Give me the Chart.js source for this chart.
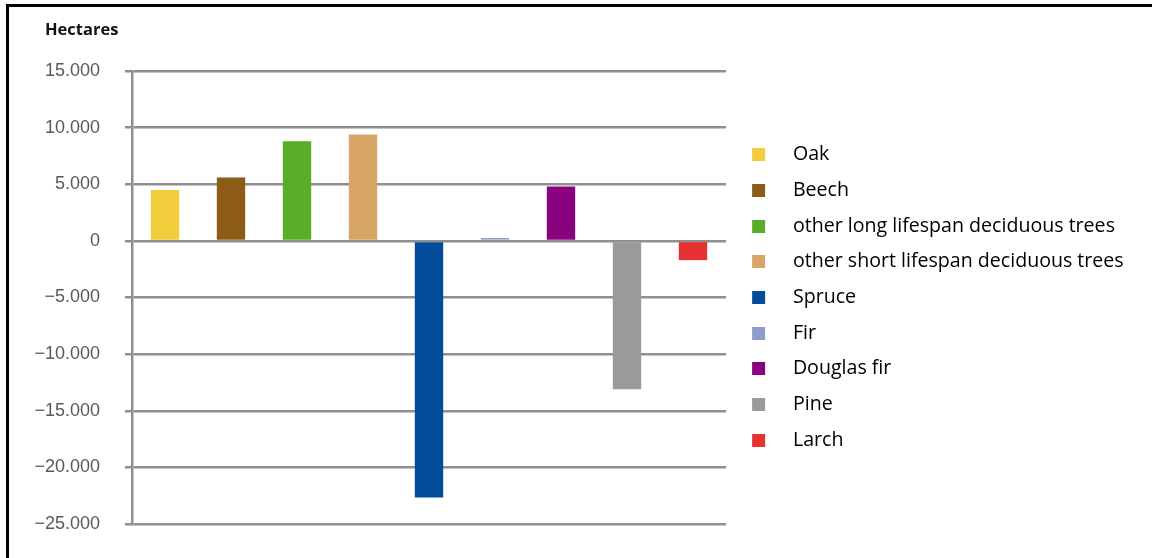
<!DOCTYPE html>
<html>
<head>
<meta charset="utf-8">
<script src="https://cdn.jsdelivr.net/npm/chart.js@4"></script>
<style>
  html, body { margin: 0; padding: 0; background: #fff; overflow: hidden; }
  #frame {
    position: absolute; left: 6px; top: 4px; right: -10px; bottom: -10px;
    border-left: 3px solid #000; border-top: 3px solid #000;
  }
  #wrap { position: absolute; left: 0; top: 0; width: 1152px; height: 558px; }
</style>
</head>
<body>
<div id="frame"></div>
<div id="wrap"><canvas id="chart"></canvas></div>
<script>
// tree species and change in area (hectares)
const species = [
  "Oak",
  "Beech",
  "other long lifespan deciduous trees",
  "other short lifespan deciduous trees",
  "Spruce",
  "Fir",
  "Douglas fir",
  "Pine",
  "Larch",
];
const hectares = [4500, 5600, 8800, 9400, -22650, 250, 4800, -13100, -1700];
const barColors = [
  "#f1cd3b", "#8c5b15", "#5aad29", "#d7a566", "#034b9b",
  "#8c9ccd", "#89037f", "#9a9a9c", "#e3322f",
];
const yMin = -25000;
const yMax = 15000;
const yStep = 5000;

function fmt(v) {
  const s = Math.abs(v).toString().replace(/\B(?=(\d{3})+(?!\d))/g, ".");
  return v < 0 ? "\u2212" + s : s;
}

// legend swatch: 13px square with some room on its left
function swatch(color) {
  const c = document.createElement("canvas");
  c.width = 41;
  c.height = 13;
  const g = c.getContext("2d");
  g.fillStyle = color;
  g.fillRect(10, 0, 13, 13);
  return c;
}

// unit label in the top left corner
const unitLabel = {
  id: "unitLabel",
  afterDraw(chart) {
    const c = chart.ctx;
    c.save();
    c.font = "bold 16.5px 'Open Sans'";
    c.fillStyle = "#111";
    c.textBaseline = "middle";
    c.fillText("Hectares", 45, 30);
    c.restore();
  },
};

// legend box keeps the whole space right of the plot
const legendWidth = {
  id: "legendWidth",
  beforeLayout(chart) {
    const lg = chart.legend;
    if (!lg || lg._wide) return;
    const fit = lg.fit.bind(lg);
    lg.fit = function () {
      fit();
      this.width = 426;
    };
    lg._wide = true;
  },
};

const ctx = document.getElementById("chart").getContext("2d");
new Chart(ctx, {
  type: "bar",
  data: {
    labels: species,
    datasets: [
      {
        data: hectares,
        backgroundColor: barColors,
        borderWidth: 0,
        categoryPercentage: 1,
        barPercentage: 0.43,
      },
    ],
  },
  plugins: [unitLabel, legendWidth],
  options: {
    responsive: true,
    maintainAspectRatio: false,
    animation: false,
    layout: { padding: { left: 0, right: 0, top: 71, bottom: 34 } },
    plugins: {
      tooltip: { enabled: false },
      legend: {
        position: "right",
        align: "center",
        fullSize: false,
        labels: {
          color: "#1a1a1a",
          font: { family: "Open Sans", size: 19.6 },
          usePointStyle: true,
          pointStyleWidth: 41,
          padding: 16.1,
          generateLabels: () =>
            species.map((s, i) => ({
              text: s,
              fillStyle: barColors[i],
              strokeStyle: barColors[i],
              lineWidth: 0,
              pointStyle: swatch(barColors[i]),
              hidden: false,
              index: i,
            })),
        },
      },
    },
    scales: {
      x: { display: false },
      y: {
        min: yMin,
        max: yMax,
        afterFit: (scale) => {
          scale.width = 132;
          // tick padding is horizontal only here
          scale.paddingTop = 0;
          scale.paddingBottom = 0;
        },
        ticks: {
          stepSize: yStep,
          padding: 25,
          color: "#595959",
          font: { family: "Liberation Sans", size: 18 },
          callback: (v) => fmt(v),
        },
        grid: { color: "#8f8f8f", lineWidth: 2.5, tickLength: 7 },
        border: { display: true, color: "#8f8f8f", width: 2.5 },
      },
    },
  },
});
</script>
</body>
</html>
